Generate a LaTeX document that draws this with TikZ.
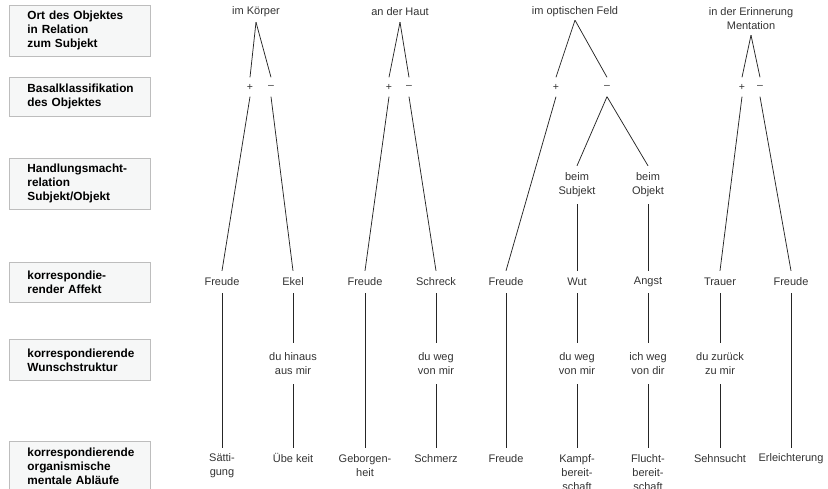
\documentclass[tikz,border=0pt]{standalone}
\usepackage{fontspec}
\setmainfont{Liberation Sans}
\definecolor{boxfill}{HTML}{F6F7F7}
\definecolor{boxline}{HTML}{BDBDBD}
\definecolor{txt}{HTML}{333333}
\begin{document}
\begin{tikzpicture}[x=1pt,y=-1pt,
  catbox/.style={draw=boxline, fill=boxfill, line width=0.9pt, minimum width=141pt,
    text width=105pt, inner xsep=18pt, inner ysep=0pt, align=left,
    font=\fontsize{11.8}{14}\selectfont\bfseries, anchor=north west},
  tt/.style={font=\fontsize{11}{14}\selectfont, text=txt, align=center, inner sep=0pt},
  pm/.style={tt, font=\fontsize{10.5}{12}\selectfont, minimum height=19pt, minimum width=6pt},
  aff/.style={tt, minimum height=22pt},
  wish/.style={tt, minimum height=41pt},
  bot/.style={tt, anchor=north},
  conn/.style={draw=black!85, line width=0.75pt}]
\useasboundingbox (0,0) rectangle (828,489);

% category boxes
\node[catbox, minimum height=51pt] (c1) at (9,5) {Ort des Objektes\\in Relation\\zum Subjekt};
\node[catbox, minimum height=39pt] (c2) at (9,77) {Basalklassifikation\\des Objektes};
\node[catbox, minimum height=51pt] (c3) at (9,158) {Handlungsmacht-\\relation\\Subjekt/Objekt};
\node[catbox, minimum height=40pt] (c4) at (9,262) {korrespondie-\\render Affekt};
\node[catbox, minimum height=41pt] (c5) at (9,339) {korrespondierende\\Wunschstruktur};
\node[catbox, minimum height=50pt] (c6) at (9,441) {korrespondierende\\organismische\\mentale Abläufe};

% top labels
\node[tt, minimum height=20pt] (t1) at (256,12) {im Körper};
\node[tt, minimum height=20pt] (t2) at (400,12) {an der Haut};
\node[tt, minimum height=16pt] (t3) at (575,12) {im optischen Feld};
\node[tt, minimum height=32pt] (t4) at (751,19) {in der Erinnerung\\Mentation};

% plus / minus
\node[pm] (p1) at (250,87) {+};
\node[pm] (m1) at (271,87) {–};
\node[pm] (p2) at (389,87) {+};
\node[pm] (m2) at (409,87) {–};
\node[pm] (p3) at (556,87) {+};
\node[pm] (m3) at (607,87) {–};
\node[pm] (p4) at (742,87) {+};
\node[pm] (m4) at (760,87) {–};

% Handlungsmacht
\node[tt, minimum height=38pt] (s3) at (577,185) {beim\\Subjekt};
\node[tt, minimum height=38pt] (o3) at (648,185) {beim\\Objekt};

% affects
\node[aff] (a1) at (222,282) {Freude};
\node[aff] (a2) at (293,282) {Ekel};
\node[aff] (a3) at (365,282) {Freude};
\node[aff] (a4) at (436,282) {Schreck};
\node[aff] (a5) at (506,282) {Freude};
\node[aff] (a6) at (577,282) {Wut};
\node[aff] (a7) at (648,282) {Angst};
\node[aff] (a8) at (720,282) {Trauer};
\node[aff] (a9) at (791,282) {Freude};

% wishes
\node[wish] (w2) at (293,363.5) {du hinaus\\aus mir};
\node[wish] (w4) at (436,363.5) {du weg\\von mir};
\node[wish] (w6) at (577,363.5) {du weg\\von mir};
\node[wish] (w7) at (648,363.5) {ich weg\\von dir};
\node[wish] (w8) at (720,363.5) {du zurück\\zu mir};

% bottom row
\node[bot, minimum height=35pt] (b1) at (222,448) {Sätti-\\gung};
\node[bot, minimum height=20pt] (b2) at (293,448) {Übe keit};
\node[bot, minimum height=35pt] (b3) at (365,448) {Geborgen-\\heit};
\node[bot, minimum height=20pt] (b4) at (436,448) {Schmerz};
\node[bot, minimum height=20pt] (b5) at (506,448) {Freude};
\node[bot, minimum height=49pt] (b6) at (577,448) {Kampf-\\bereit-\\schaft};
\node[bot, minimum height=49pt] (b7) at (648,448) {Flucht-\\bereit-\\schaft};
\node[bot, minimum height=20pt] (b8) at (720,448) {Sehnsucht};
\node[bot, minimum height=20pt] (b9) at (791,448) {Erleichterung};

% connectors
\draw[conn] (t1.south) -- (p1.north);
\draw[conn] (t1.south) -- (m1.north);
\draw[conn] (p1.south) -- (a1.north);
\draw[conn] (m1.south) -- (a2.north);
\draw[conn] (a1.south) -- (b1.north);
\draw[conn] (a2.south) -- (w2.north);
\draw[conn] (w2.south) -- (b2.north);

\draw[conn] (t2.south) -- (p2.north);
\draw[conn] (t2.south) -- (m2.north);
\draw[conn] (p2.south) -- (a3.north);
\draw[conn] (m2.south) -- (a4.north);
\draw[conn] (a3.south) -- (b3.north);
\draw[conn] (a4.south) -- (w4.north);
\draw[conn] (w4.south) -- (b4.north);

\draw[conn] (t3.south) -- (p3.north);
\draw[conn] (t3.south) -- (m3.north);
\draw[conn] (p3.south) -- (a5.north);
\draw[conn] (m3.south) -- (s3.north);
\draw[conn] (m3.south) -- (o3.north);
\draw[conn] (s3.south) -- (a6.north);
\draw[conn] (o3.south) -- (a7.north);
\draw[conn] (a5.south) -- (b5.north);
\draw[conn] (a6.south) -- (w6.north);
\draw[conn] (w6.south) -- (b6.north);
\draw[conn] (a7.south) -- (w7.north);
\draw[conn] (w7.south) -- (b7.north);

\draw[conn] (t4.south) -- (p4.north);
\draw[conn] (t4.south) -- (m4.north);
\draw[conn] (p4.south) -- (a8.north);
\draw[conn] (m4.south) -- (a9.north);
\draw[conn] (a8.south) -- (w8.north);
\draw[conn] (w8.south) -- (b8.north);
\draw[conn] (a9.south) -- (b9.north);
\end{tikzpicture}
\end{document}
